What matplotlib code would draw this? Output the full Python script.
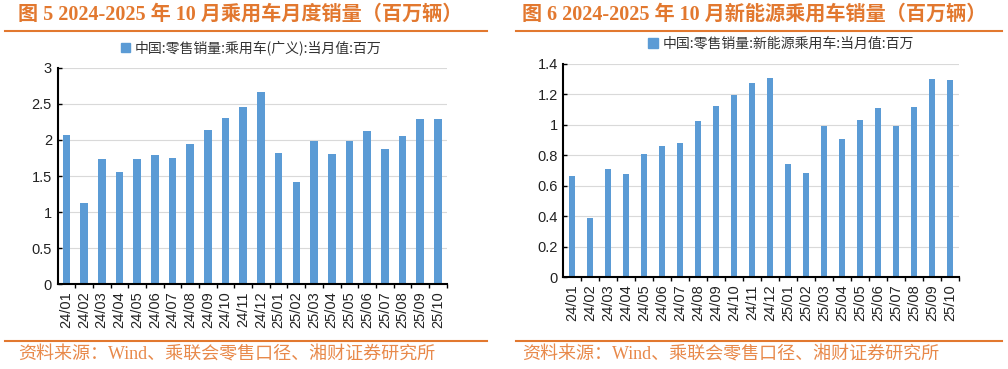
import matplotlib.pyplot as plt
from matplotlib.lines import Line2D
from matplotlib.patches import Patch

W, H = 1008, 369

months = ["24/01", "24/02", "24/03", "24/04", "24/05", "24/06", "24/07",
          "24/08", "24/09", "24/10", "24/11", "24/12", "25/01", "25/02",
          "25/03", "25/04", "25/05", "25/06", "25/07", "25/08", "25/09",
          "25/10"]

# 乘用车（广义）零售，百万辆
pv_sales = [2.07, 1.12, 1.74, 1.56, 1.74, 1.79, 1.75, 1.94, 2.14, 2.30, 2.46,
            2.67, 1.82, 1.42, 1.99, 1.81, 1.98, 2.13, 1.88, 2.06, 2.29, 2.29]

# 新能源乘用车零售，百万辆
nev_sales = [0.666, 0.388, 0.712, 0.680, 0.805, 0.860, 0.880, 1.026, 1.125,
             1.197, 1.276, 1.305, 0.743, 0.684, 0.990, 0.908, 1.028, 1.110,
             0.990, 1.118, 1.300, 1.290]

titles = ["图 5 2024-2025 年 10 月乘用车月度销量（百万辆）",
          "图 6 2024-2025 年 10 月新能源乘用车销量（百万辆）"]
legend_labels = ["中国:零售销量:乘用车(广义):当月值:百万",
                 "中国:零售销量:新能源乘用车:当月值:百万"]
source_text = "资料来源：Wind、乘联会零售口径、湘财证券研究所"

BAR = "#5B9BD5"
ORANGE = "#E2782F"
SRC = "#E8894A"
SERIF_CJK = ["Liberation Serif", "Noto Sans CJK SC"]
CJK = ["Noto Sans CJK SC", "DejaVu Sans"]


def px_axes(fig, x0, x1, ytop, ybot):
    return fig.add_axes([x0 / W, 1 - ybot / H, (x1 - x0) / W, (ybot - ytop) / H])


def draw_panel(fig, ax, values, ymax, ystep, width, label, legend_x, legend_y):
    x = range(len(values))
    bars = ax.bar(x, values, width=width, color=BAR, zorder=3)
    ax.set_xlim(-0.5, len(values) - 0.5)
    ax.set_ylim(0, ymax)

    yt = [round(i * ystep, 2) for i in range(int(round(ymax / ystep)) + 1)]
    ax.set_yticks(yt)
    ax.set_yticklabels([f"{v:g}" for v in yt], family="Liberation Sans",
                       fontsize=10.5, color="#222222")
    ax.tick_params(axis="y", direction="in", length=3, width=1, pad=4)

    ax.set_xticks(list(x))
    ax.set_xticklabels(months, rotation=90, family="Liberation Sans",
                       fontsize=10.5, color="#222222")
    ax.tick_params(axis="x", length=0, pad=5)
    ax.set_xticks([i + 0.5 for i in range(len(values))], minor=True)
    ax.tick_params(axis="x", which="minor", direction="out", length=3, width=1)

    ax.grid(axis="y", color="#D9D9D9", lw=0.8, zorder=0)
    for s in ("top", "right"):
        ax.spines[s].set_visible(False)
    for s in ("left", "bottom"):
        ax.spines[s].set_linewidth(1.5)
        ax.spines[s].set_zorder(4)

    fig.legend([Patch(color=BAR)], [label], loc="center",
               bbox_to_anchor=(legend_x / W, 1 - legend_y / H),
               frameon=False, handlelength=0.7, handleheight=0.7,
               handletextpad=0.3, labelcolor="#333333",
               prop={"family": CJK, "size": 10})
    return bars


def main():
    fig = plt.figure(figsize=(W / 100, H / 100), dpi=100)

    ax1 = px_axes(fig, 57.5, 446.7, 67.7, 284.3)
    draw_panel(fig, ax1, pv_sales, 3, 0.5, 0.43, legend_labels[0], 251, 48)

    ax2 = px_axes(fig, 563.3, 959, 63.7, 277.2)
    draw_panel(fig, ax2, nev_sales, 1.4, 0.2, 0.33, legend_labels[1], 781, 44)

    # titles, rules and sources
    for x0, x1, tx, title in [(5, 487, 18, titles[0]), (516, 1002, 522, titles[1])]:
        fig.text(tx / W, 1 - 15 / H, title, family=SERIF_CJK, weight="bold",
                 fontsize=14.5, color=ORANGE, ha="left", va="center")
        fig.add_artist(Line2D([x0 / W, x1 / W], [1 - 30.5 / H] * 2,
                              color=ORANGE, lw=1.5))
        fig.add_artist(Line2D([x0 / W, x1 / W], [1 - 341 / H] * 2,
                              color=ORANGE, lw=1.5))
        fig.text(tx / W, 1 - 355 / H, source_text, family=SERIF_CJK,
                 fontsize=13, color=SRC, ha="left", va="center")

    fig.savefig("out.png", dpi=100)


if __name__ == "__main__":
    main()
